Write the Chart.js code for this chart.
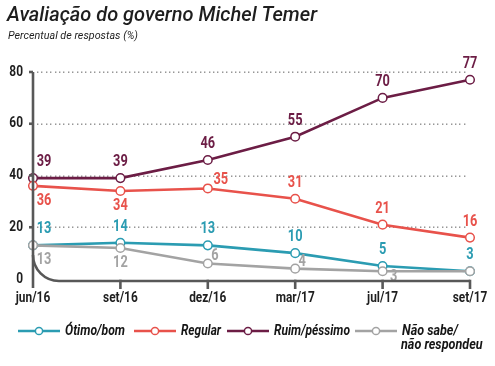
<!DOCTYPE html>
<html>
<head>
<meta charset="utf-8">
<title>Avaliação do governo Michel Temer</title>
<script src="https://cdn.jsdelivr.net/npm/chart.js@4.4.0/dist/chart.umd.min.js"></script>
<style>
  html, body { margin: 0; padding: 0; background: #fff; }
  #grafico { display: block; }
</style>
</head>
<body>
<canvas id="grafico" width="495" height="366"></canvas>
<script>
// Dados (%)
const meses = ['jun/16', 'set/16', 'dez/16', 'mar/17', 'jul/17', 'set/17'];
const otimoBom = [13, 14, 13, 10, 5, 3];
const regular = [36, 34, 35, 31, 21, 16];
const ruimPessimo = [39, 39, 46, 55, 70, 77];
const naoSabe = [13, 12, 6, 4, 3, 3];
const ticksY = [0, 20, 40, 60, 80];

const FONTE = "Roboto, 'Liberation Sans', sans-serif";

// cores
const azul = '#2b9cb2';
const vermelho = '#e8524b';
const vinho = '#6c1d45';
const cinza = '#a3a3a3';
const eixo = '#585858';

// posição dos rótulos em relação ao ponto: a = acima, b = abaixo, d = direita
function serie(label, valores, cor, posicoes) {
    return {
        label: label,
        data: valores,
        borderColor: cor,
        backgroundColor: '#fff',
        borderWidth: 2.6,
        pointRadius: 4.3,
        pointBorderWidth: 1.5,
        pointBackgroundColor: '#fff',
        pointBorderColor: cor,
        tension: 0,
        rotulos: posicoes
    };
}

const datasets = [
    serie('Não sabe/\nnão respondeu', naoSabe, cinza, ['b', 'b', 'd', 'd', 'db', 'x']),
    serie('Regular', regular, vermelho, ['b', 'b', 'ad', 'a', 'a', 'a']),
    serie('Ótimo/bom', otimoBom, azul, ['a', 'a', 'a', 'a', 'a', 'a']),
    serie('Ruim/péssimo', ruimPessimo, vinho, ['a', 'a', 'a', 'a', 'a', 'a'])
];

// ordem da legenda
const ordemLegenda = [2, 1, 3, 0];
const xLegenda = [18, 134, 227, 355];

// texto estreitado horizontalmente (a fonte original é condensada)
function texto(ctx, s, x, y, fator) {
    ctx.save();
    ctx.translate(x, y);
    ctx.scale(fator, 1);
    ctx.fillText(s, 0, 0);
    ctx.restore();
}

// texto ajustado a uma largura
function textoLargura(ctx, s, x, y, largura) {
    const w = ctx.measureText(s).width;
    texto(ctx, s, x, y, largura / w);
}

// Plugin: título, grade pontilhada, eixos com curva, rótulos e legenda
const desenhos = {
    id: 'desenhos',
    beforeDatasetsDraw(chart) {
        const ctx = chart.ctx;
        const y = chart.scales.y;
        const area = chart.chartArea;

        ctx.save();
        // grade pontilhada
        ctx.fillStyle = '#8c8c8c';
        ticksY.forEach(v => {
            if (v === 0) return;
            const py = Math.round(y.getPixelForValue(v));
            for (let px = area.left + 4; px < area.right - 4; px += 4.4) {
                ctx.fillRect(Math.round(px), py - 0.5, 1.4, 1.4);
            }
        });
        ctx.restore();
    },
    afterDatasetsDraw(chart) {
        const ctx = chart.ctx;
        const y = chart.scales.y;
        const x = chart.scales.x;
        const area = chart.chartArea;

        ctx.save();
        // rótulos de valores
        ctx.font = 'bold 16px ' + FONTE;
        ctx.textAlign = 'center';
        ctx.textBaseline = 'middle';
        chart.data.datasets.forEach((ds, i) => {
            const meta = chart.getDatasetMeta(i);
            ctx.fillStyle = ds.borderColor;
            meta.data.forEach((pt, j) => {
                const pos = ds.rotulos[j];
                if (pos === 'x') return;
                let dx = 0, dy = 0;
                if (pos === 'a') { dy = -16; }
                if (pos === 'b') { dy = 15; }
                if (pos === 'ad') { dx = 13; dy = -8; }
                if (pos === 'd') { dx = 7; dy = -7; }
                if (pos === 'db') { dx = 11; dy = 6; }
                if (j === 0) dx += 11;
                texto(ctx, String(ds.data[j]), pt.x + dx, pt.y + dy, 0.8);
            });
        });

        // eixos
        ctx.strokeStyle = eixo;
        ctx.lineWidth = 2.6;
        ctx.lineCap = 'butt';
        const y0 = y.getPixelForValue(0) + 2;
        ctx.beginPath();
        ctx.moveTo(area.left, y.getPixelForValue(80));
        ctx.lineTo(area.left, y0 + 7);
        ctx.stroke();
        // pequenas marcas do eixo y
        ticksY.forEach(v => {
            if (v === 0) return;
            const py = y.getPixelForValue(v);
            ctx.beginPath();
            ctx.moveTo(area.left - 4, py);
            ctx.lineTo(area.left, py);
            ctx.stroke();
        });
        // curva (quarto de círculo) e linha horizontal
        const r = 26;
        ctx.beginPath();
        ctx.arc(area.left + r, y0 - r, r, Math.PI, Math.PI / 2, true);
        ctx.lineTo(area.right, y0);
        ctx.stroke();
        meses.forEach((m, i) => {
            if (i === 0) return;
            const px = x.getPixelForValue(i);
            ctx.beginPath();
            ctx.moveTo(px, y0 - 1.3);
            ctx.lineTo(px, y0 + 8);
            ctx.stroke();
        });

        // rótulos dos eixos
        ctx.fillStyle = '#1e1e1e';
        ctx.font = 'bold 14px ' + FONTE;
        ctx.textBaseline = 'middle';
        ctx.textAlign = 'right';
        ticksY.forEach(v => {
            texto(ctx, String(v), area.left - 10, y.getPixelForValue(v), 0.85);
        });
        ctx.textAlign = 'center';
        meses.forEach((m, i) => {
            texto(ctx, m, x.getPixelForValue(i), y0 + 17, 0.85);
        });
        ctx.restore();
    },
    afterDraw(chart) {
        const ctx = chart.ctx;
        ctx.save();
        // título e subtítulo
        ctx.fillStyle = '#1e1e1e';
        ctx.textAlign = 'left';
        ctx.textBaseline = 'alphabetic';
        ctx.font = 'italic 500 21px ' + FONTE;
        textoLargura(ctx, 'Avaliação do governo Michel Temer', 7, 21, 310);
        ctx.font = 'italic 11.5px ' + FONTE;
        textoLargura(ctx, 'Percentual de respostas (%)', 8, 39, 130);

        // legenda
        const yl = 331;
        const larguras = [60, 40, 76, 56];
        ordemLegenda.forEach((idx, k) => {
            const ds = chart.data.datasets[idx];
            const x0 = xLegenda[k];
            ctx.strokeStyle = ds.borderColor;
            ctx.lineWidth = 2.6;
            ctx.beginPath();
            ctx.moveTo(x0, yl);
            ctx.lineTo(x0 + 42, yl);
            ctx.stroke();
            ctx.fillStyle = '#fff';
            ctx.lineWidth = 1.5;
            ctx.beginPath();
            ctx.arc(x0 + 21, yl, 3.6, 0, Math.PI * 2);
            ctx.fill();
            ctx.stroke();
            ctx.fillStyle = '#151515';
            ctx.font = 'italic bold 14px ' + FONTE;
            ctx.textBaseline = 'middle';
            const linhas = ds.label.split('\n');
            const fator = larguras[k] / ctx.measureText(linhas[0]).width;
            linhas.forEach((linha, n) => {
                texto(ctx, linha, x0 + 47 - n, yl + n * 14, fator);
            });
        });
        ctx.restore();
    }
};

const config = {
    type: 'line',
    data: {
        labels: meses,
        datasets: datasets
    },
    options: {
        responsive: false,
        animation: false,
        layout: {
            padding: { top: 72, left: 0, right: 25, bottom: 0 }
        },
        plugins: {
            legend: { display: false },
            tooltip: { enabled: false }
        },
        scales: {
            x: {
                offset: false,
                grid: { display: false, drawTicks: false },
                border: { display: false },
                ticks: { display: false },
                afterFit(scale) { scale.height = 87; }
            },
            y: {
                min: 0,
                max: 80,
                grid: { display: false, drawTicks: false },
                border: { display: false },
                ticks: { display: false, stepSize: 20 },
                afterFit(scale) { scale.width = 33; }
            }
        }
    },
    plugins: [desenhos]
};

const grafico = new Chart(document.getElementById('grafico').getContext('2d'), config);
</script>
</body>
</html>
